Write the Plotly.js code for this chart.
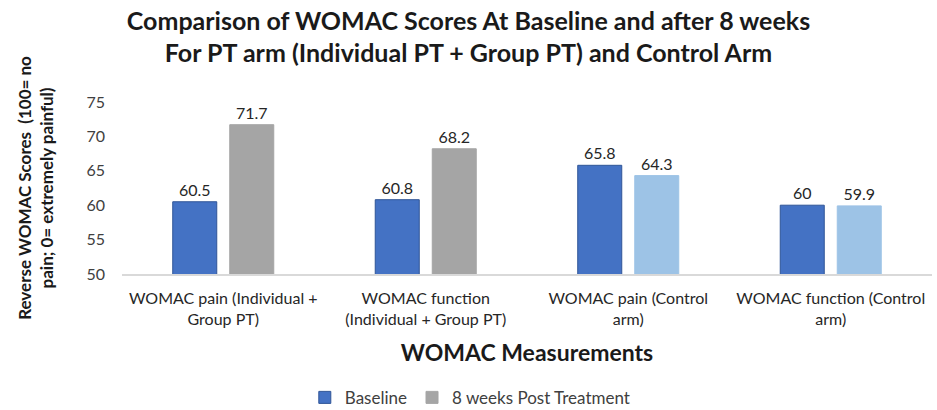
<!DOCTYPE html>
<html><head><meta charset="utf-8">
<script src="https://cdn.plot.ly/plotly-3.0.1.min.js"></script>
<style>body{margin:0;background:#fff}#chart{width:937px;height:410px}</style>
</head><body><div id="chart"></div>
<script>
const categories = ["WOMAC pain (Individual +<br>Group PT)", "WOMAC function<br>(Individual + Group PT)", "WOMAC pain (Control<br>arm)", "WOMAC function (Control<br>arm)"];
const baseline = [60.5, 60.8, 65.8, 60];
const post = [71.7, 68.2, 64.3, 59.9];
const baselineLabels = ["60.5", "60.8", "65.8", "60"];
const postLabels = ["71.7", "68.2", "64.3", "59.9"];
const yTicks = [50, 55, 60, 65, 70, 75];
const seriesNames = ["Baseline", "8 weeks Post Treatment"];
const postColors = ["#A5A5A5", "#A5A5A5", "#9DC3E6", "#9DC3E6"];

const FONT = "Lato, Open Sans, sans-serif";

const traces = [
  {type: "bar", name: seriesNames[0], x: categories, y: baseline,
   marker: {color: "#4472C4", line: {color: "#2F5597", width: 1}},
   text: baselineLabels, textposition: "outside", cliponaxis: false,
   textfont: {size: 16, color: "#262626", family: FONT}},
  {type: "bar", name: seriesNames[1], x: categories, y: post,
   marker: {color: postColors, line: {color: postColors, width: 1}},
   text: postLabels, textposition: "outside", cliponaxis: false,
   textfont: {size: 16, color: "#262626", family: FONT}}
];

const layout = {
  width: 937, height: 410,
  paper_bgcolor: "#fff", plot_bgcolor: "#fff",
  margin: {l: 122, r: 5, t: 102, b: 136, autoexpand: false},
  font: {family: FONT, color: "#262626"},
  title: {text: "<b>Comparison of WOMAC Scores At Baseline and after 8 weeks<br>For PT arm (Individual PT + Group PT) and Control Arm</b>",
          font: {size: 25, color: "#1a1a1a", family: FONT}, x: 0.5, xanchor: "center", y: 0.927, yanchor: "middle"},
  barmode: "group", bargap: 0.437, bargroupgap: 0.228,
  xaxis: {showline: true, linecolor: "#D9D9D9", linewidth: 1.5, ticks: "", showgrid: false,
          ticklabelstandoff: 9,
          tickfont: {size: 16, color: "#262626", family: FONT},
          title: {text: "<b>WOMAC Measurements</b>", font: {size: 23, color: "#1a1a1a", family: FONT}, standoff: 18}},
  yaxis: {range: [50, 75], tickvals: yTicks, showgrid: false, zeroline: false, showline: false,
          ticks: "", ticklabelstandoff: 16,
          tickfont: {size: 16, color: "#404040", family: FONT},
          title: {text: "<b>Reverse WOMAC Scores  (100= no<br>pain; 0= extremely painful)</b>", font: {size: 17, color: "#1a1a1a", family: FONT}, standoff: 28}},
  legend: {orientation: "h", x: 0.43, xanchor: "center", y: -0.72, yanchor: "middle",
           font: {size: 17, color: "#404040", family: FONT}, itemwidth: 30},
  showlegend: true
};
Plotly.newPlot("chart", traces, layout, {displayModeBar: false, staticPlot: true});
</script></body></html>
